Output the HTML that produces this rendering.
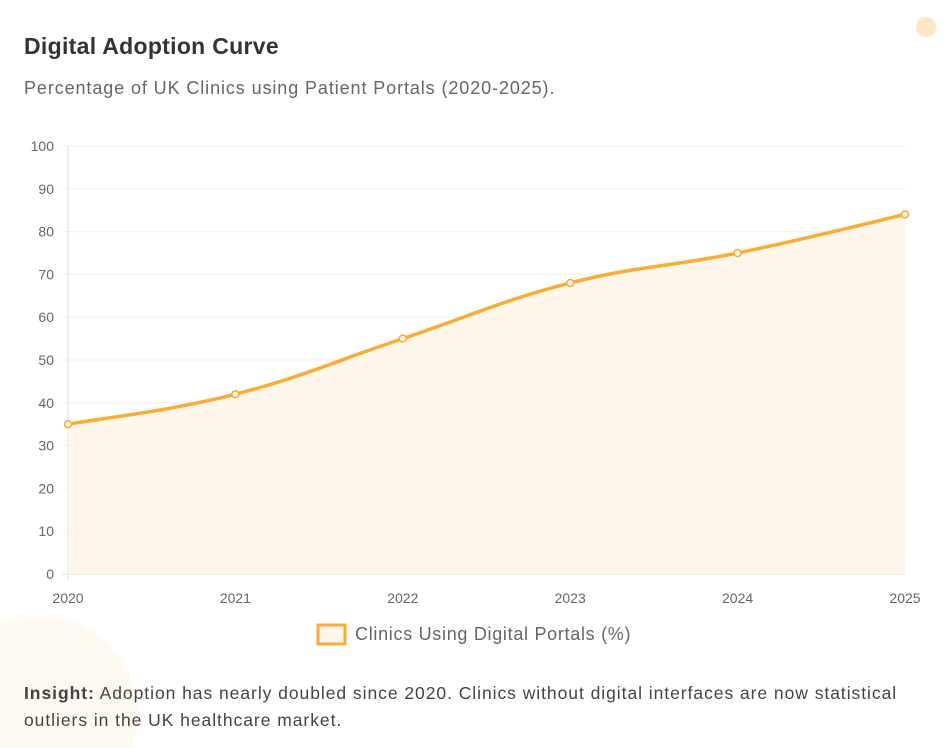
<!DOCTYPE html>
<html style="overflow:hidden;width:947px;height:748px"><head><meta charset="utf-8"><style>
body{margin:0;width:947px;height:748px;background:#fff;overflow:hidden;position:relative;font-family:"Liberation Sans",sans-serif}
h1{position:absolute;left:24px;top:33px;margin:0;font-size:23px;letter-spacing:0.3px;font-weight:bold;color:#333}
.sub{position:absolute;left:24px;top:78px;font-size:18px;letter-spacing:0.9px;color:#666}
.ins{position:absolute;left:24px;top:680px;width:900px;font-size:17.5px;letter-spacing:0.95px;line-height:27px;color:#444}
svg{position:absolute;left:0;top:0}
</style></head><body>
<svg id="c" width="947" height="748">
<circle cx="926" cy="27" r="10" fill="#fde6c6"/>
<circle cx="38" cy="715" r="100" fill="#fffaf1"/>
</svg>
<h1>Digital Adoption Curve</h1>
<div class="sub">Percentage of UK Clinics using Patient Portals (2020-2025).</div>
<div class="ins"><b>Insight:</b> Adoption has nearly doubled since 2020. Clinics without digital interfaces are now statistical outliers in the UK healthcare market.</div>
<script>
const categories=["2020","2021","2022","2023","2024","2025"];
const values=[35,42,55,68,75,84];
const yTicks=[0,10,20,30,40,50,60,70,80,90,100];
const seriesLabel="Clinics Using Digital Portals (%)";
const NS="http://www.w3.org/2000/svg",svg=document.getElementById('c');
const X0=68,X1=905,Y0=574,Y1=146;
const xs=i=>X0+(X1-X0)*i/(categories.length-1);
const ys=v=>Y0-(Y0-Y1)*v/100;
function el(t,a,p){const e=document.createElementNS(NS,t);for(const k in a)e.setAttribute(k,a[k]);(p||svg).appendChild(e);return e;}
yTicks.forEach(t=>{
 const g=el('line',{x1:62,x2:X1,y1:ys(t),y2:ys(t),stroke:t===0?'#ddd':'#f0f0f0','stroke-width':1});
 
 
 const tx=el('text',{x:54,y:ys(t)+5,'text-anchor':'end','font-size':14,fill:'#666'});tx.textContent=t;
 
 
});
const ax=el('line',{x1:X0,x2:X0,y1:Y1,y2:Y0+6,stroke:'#ddd'});


categories.forEach((c,i)=>{
 const tx=el('text',{x:Math.min(xs(i),922-17),y:603,'text-anchor':'middle','font-size':14,fill:'#666'});tx.textContent=c;
 
 
});
const P=values.map((v,i)=>[xs(i),ys(v)]);
let d=`M${P[0][0]},${P[0][1]}`;const t=0.4;
for(let i=0;i<P.length-1;i++){
 const p0=P[i-1]||P[i],p1=P[i],p2=P[i+1],p3=P[i+2]||P[i+1];
 const c1=[p1[0]+(p2[0]-p0[0])*t/2,p1[1]+(p2[1]-p0[1])*t/2];
 const c2=[p2[0]-(p3[0]-p1[0])*t/2,p2[1]-(p3[1]-p1[1])*t/2];
 d+=` C${c1[0]},${c1[1]} ${c2[0]},${c2[1]} ${p2[0]},${p2[1]}`;
}
const area=el('path',{d:d+` L${X1},${Y0} L${X0},${Y0} Z`,fill:'#fef6ea'});


const line=el('path',{d:d,fill:'none',stroke:'#f9ac36','stroke-width':3.5});


P.forEach(p=>{
 const c=el('circle',{cx:p[0],cy:p[1],r:3.5,fill:'#fef6ea',stroke:'#f9ac36','stroke-width':1.5});
 
 
});
const lb=el('rect',{x:318,y:625,width:27,height:19,fill:'#fef6ea',stroke:'#f9ac36','stroke-width':3});


const lt=el('text',{x:355,y:640,'font-size':18,'letter-spacing':0.7,fill:'#666'});lt.textContent=seriesLabel;


</script>
</body></html>
